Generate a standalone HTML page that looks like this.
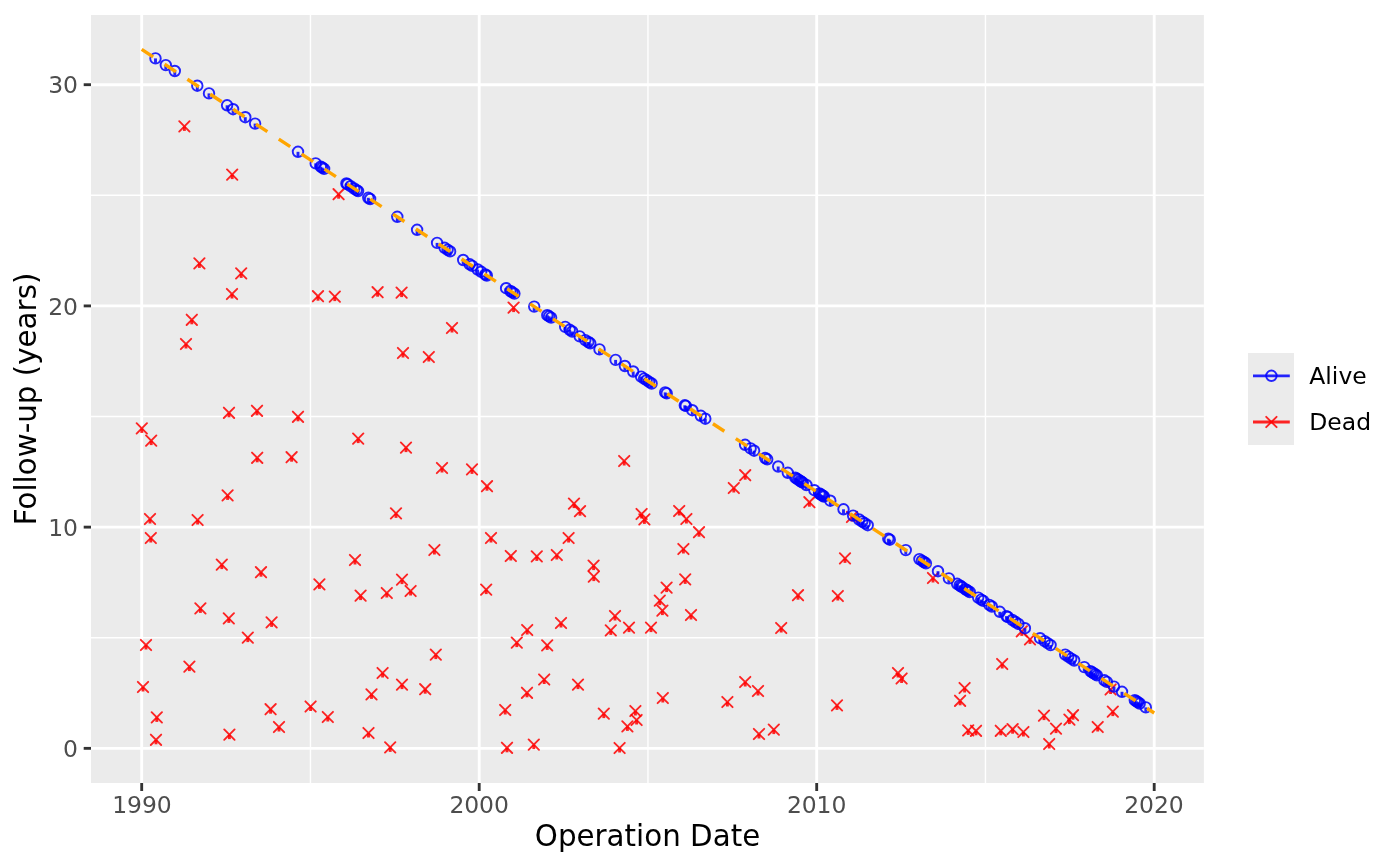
<!DOCTYPE html>
<html lang="en"><head><meta charset="utf-8"><title>Follow-up by Operation Date</title>
<style>
html,body{margin:0;padding:0;background:#fff;}
body{width:1400px;height:866px;overflow:hidden;font-family:"DejaVu Sans","Liberation Sans",sans-serif;}
svg{display:block}
.ax{font-size:23.47px;fill:#4d4d4d;letter-spacing:-0.12px}
.ttl{font-size:29.33px;fill:#000}
.lg{font-size:23.47px;fill:#000}
.gM{stroke:#fff;stroke-width:2.85;fill:none}
.gm{stroke:#fff;stroke-width:1.42;fill:none}
.tk{stroke:#333;stroke-width:2.85;fill:none}
.a{fill:none;stroke:#0000ff;stroke-opacity:.85;stroke-width:1.9}
.at{stroke:#0000ff;stroke-opacity:.85;stroke-width:2.9;fill:none}
.d{fill:none;stroke:#ff0000;stroke-opacity:.85;stroke-width:1.9;stroke-linecap:round}
.dt{stroke:#ff0000;stroke-opacity:.85;stroke-width:2.9;fill:none}
</style></head><body>
<svg width="1400" height="866" viewBox="0 0 1400 866" font-family="DejaVu Sans, Liberation Sans, sans-serif">
<rect width="1400" height="866" fill="#fff"/>
<rect x="91.0" y="15.0" width="1112.9" height="768.0" fill="#ebebeb"/>
<defs><clipPath id="cp"><rect x="91.0" y="15.0" width="1112.9" height="768.0"/></clipPath></defs>
<path class="gm" d="M91.0 637.74H1203.9"/>
<path class="gm" d="M91.0 416.53H1203.9"/>
<path class="gm" d="M91.0 195.31H1203.9"/>
<path class="gm" d="M310.45 15.0V783.0"/>
<path class="gm" d="M647.95 15.0V783.0"/>
<path class="gm" d="M985.45 15.0V783.0"/>
<path class="gM" d="M91.0 748.35H1203.9"/>
<path class="gM" d="M91.0 527.13H1203.9"/>
<path class="gM" d="M91.0 305.92H1203.9"/>
<path class="gM" d="M91.0 84.70H1203.9"/>
<path class="gM" d="M141.70 15.0V783.0"/>
<path class="gM" d="M479.20 15.0V783.0"/>
<path class="gM" d="M816.70 15.0V783.0"/>
<path class="gM" d="M1154.20 15.0V783.0"/>
<g clip-path="url(#cp)">
<g class="d">
<path d="M179.2 121.2l10.4 10.4m0 -10.4l-10.4 10.4"/>
<path d="M227.0 169.4l10.4 10.4m0 -10.4l-10.4 10.4"/>
<path d="M333.4 189.0l10.4 10.4m0 -10.4l-10.4 10.4"/>
<path d="M194.2 258.2l10.4 10.4m0 -10.4l-10.4 10.4"/>
<path d="M236.0 268.2l10.4 10.4m0 -10.4l-10.4 10.4"/>
<path d="M226.8 288.8l10.4 10.4m0 -10.4l-10.4 10.4"/>
<path d="M312.8 291.0l10.4 10.4m0 -10.4l-10.4 10.4"/>
<path d="M329.6 291.4l10.4 10.4m0 -10.4l-10.4 10.4"/>
<path d="M186.6 314.6l10.4 10.4m0 -10.4l-10.4 10.4"/>
<path d="M180.8 338.8l10.4 10.4m0 -10.4l-10.4 10.4"/>
<path d="M372.4 287.0l10.4 10.4m0 -10.4l-10.4 10.4"/>
<path d="M396.4 287.4l10.4 10.4m0 -10.4l-10.4 10.4"/>
<path d="M446.8 322.8l10.4 10.4m0 -10.4l-10.4 10.4"/>
<path d="M508.4 302.4l10.4 10.4m0 -10.4l-10.4 10.4"/>
<path d="M397.8 347.8l10.4 10.4m0 -10.4l-10.4 10.4"/>
<path d="M423.6 351.8l10.4 10.4m0 -10.4l-10.4 10.4"/>
<path d="M223.8 407.6l10.4 10.4m0 -10.4l-10.4 10.4"/>
<path d="M251.8 405.6l10.4 10.4m0 -10.4l-10.4 10.4"/>
<path d="M292.8 411.6l10.4 10.4m0 -10.4l-10.4 10.4"/>
<path d="M136.6 423.2l10.4 10.4m0 -10.4l-10.4 10.4"/>
<path d="M146.0 435.4l10.4 10.4m0 -10.4l-10.4 10.4"/>
<path d="M353.0 433.4l10.4 10.4m0 -10.4l-10.4 10.4"/>
<path d="M252.0 452.6l10.4 10.4m0 -10.4l-10.4 10.4"/>
<path d="M286.4 452.0l10.4 10.4m0 -10.4l-10.4 10.4"/>
<path d="M222.4 490.2l10.4 10.4m0 -10.4l-10.4 10.4"/>
<path d="M144.8 513.8l10.4 10.4m0 -10.4l-10.4 10.4"/>
<path d="M192.4 514.8l10.4 10.4m0 -10.4l-10.4 10.4"/>
<path d="M400.8 442.4l10.4 10.4m0 -10.4l-10.4 10.4"/>
<path d="M436.8 462.8l10.4 10.4m0 -10.4l-10.4 10.4"/>
<path d="M466.8 464.2l10.4 10.4m0 -10.4l-10.4 10.4"/>
<path d="M481.8 481.0l10.4 10.4m0 -10.4l-10.4 10.4"/>
<path d="M619.0 455.8l10.4 10.4m0 -10.4l-10.4 10.4"/>
<path d="M390.8 508.2l10.4 10.4m0 -10.4l-10.4 10.4"/>
<path d="M568.8 498.4l10.4 10.4m0 -10.4l-10.4 10.4"/>
<path d="M574.8 506.0l10.4 10.4m0 -10.4l-10.4 10.4"/>
<path d="M636.4 508.8l10.4 10.4m0 -10.4l-10.4 10.4"/>
<path d="M639.2 514.2l10.4 10.4m0 -10.4l-10.4 10.4"/>
<path d="M740.0 470.0l10.4 10.4m0 -10.4l-10.4 10.4"/>
<path d="M728.6 482.8l10.4 10.4m0 -10.4l-10.4 10.4"/>
<path d="M804.2 497.0l10.4 10.4m0 -10.4l-10.4 10.4"/>
<path d="M846.8 511.8l10.4 10.4m0 -10.4l-10.4 10.4"/>
<path d="M674.0 505.8l10.4 10.4m0 -10.4l-10.4 10.4"/>
<path d="M681.2 513.8l10.4 10.4m0 -10.4l-10.4 10.4"/>
<path d="M693.8 527.0l10.4 10.4m0 -10.4l-10.4 10.4"/>
<path d="M145.6 532.8l10.4 10.4m0 -10.4l-10.4 10.4"/>
<path d="M216.6 559.4l10.4 10.4m0 -10.4l-10.4 10.4"/>
<path d="M255.8 567.0l10.4 10.4m0 -10.4l-10.4 10.4"/>
<path d="M349.8 554.8l10.4 10.4m0 -10.4l-10.4 10.4"/>
<path d="M314.2 579.2l10.4 10.4m0 -10.4l-10.4 10.4"/>
<path d="M355.4 590.4l10.4 10.4m0 -10.4l-10.4 10.4"/>
<path d="M195.2 603.2l10.4 10.4m0 -10.4l-10.4 10.4"/>
<path d="M223.6 613.2l10.4 10.4m0 -10.4l-10.4 10.4"/>
<path d="M266.4 617.2l10.4 10.4m0 -10.4l-10.4 10.4"/>
<path d="M242.6 632.4l10.4 10.4m0 -10.4l-10.4 10.4"/>
<path d="M140.8 639.8l10.4 10.4m0 -10.4l-10.4 10.4"/>
<path d="M184.2 661.4l10.4 10.4m0 -10.4l-10.4 10.4"/>
<path d="M137.8 681.8l10.4 10.4m0 -10.4l-10.4 10.4"/>
<path d="M485.8 532.8l10.4 10.4m0 -10.4l-10.4 10.4"/>
<path d="M563.4 532.8l10.4 10.4m0 -10.4l-10.4 10.4"/>
<path d="M429.2 544.8l10.4 10.4m0 -10.4l-10.4 10.4"/>
<path d="M505.6 550.8l10.4 10.4m0 -10.4l-10.4 10.4"/>
<path d="M531.6 551.2l10.4 10.4m0 -10.4l-10.4 10.4"/>
<path d="M551.6 549.8l10.4 10.4m0 -10.4l-10.4 10.4"/>
<path d="M588.4 560.4l10.4 10.4m0 -10.4l-10.4 10.4"/>
<path d="M588.6 571.4l10.4 10.4m0 -10.4l-10.4 10.4"/>
<path d="M396.8 574.4l10.4 10.4m0 -10.4l-10.4 10.4"/>
<path d="M381.6 587.8l10.4 10.4m0 -10.4l-10.4 10.4"/>
<path d="M405.4 585.8l10.4 10.4m0 -10.4l-10.4 10.4"/>
<path d="M481.0 584.4l10.4 10.4m0 -10.4l-10.4 10.4"/>
<path d="M609.8 610.8l10.4 10.4m0 -10.4l-10.4 10.4"/>
<path d="M555.8 617.8l10.4 10.4m0 -10.4l-10.4 10.4"/>
<path d="M522.0 624.8l10.4 10.4m0 -10.4l-10.4 10.4"/>
<path d="M605.6 625.2l10.4 10.4m0 -10.4l-10.4 10.4"/>
<path d="M623.8 622.4l10.4 10.4m0 -10.4l-10.4 10.4"/>
<path d="M645.8 622.4l10.4 10.4m0 -10.4l-10.4 10.4"/>
<path d="M511.6 637.4l10.4 10.4m0 -10.4l-10.4 10.4"/>
<path d="M542.0 640.2l10.4 10.4m0 -10.4l-10.4 10.4"/>
<path d="M430.6 649.4l10.4 10.4m0 -10.4l-10.4 10.4"/>
<path d="M377.4 667.8l10.4 10.4m0 -10.4l-10.4 10.4"/>
<path d="M396.8 679.4l10.4 10.4m0 -10.4l-10.4 10.4"/>
<path d="M420.0 684.0l10.4 10.4m0 -10.4l-10.4 10.4"/>
<path d="M366.3 689.2l10.4 10.4m0 -10.4l-10.4 10.4"/>
<path d="M539.0 674.3l10.4 10.4m0 -10.4l-10.4 10.4"/>
<path d="M572.8 679.4l10.4 10.4m0 -10.4l-10.4 10.4"/>
<path d="M521.8 687.6l10.4 10.4m0 -10.4l-10.4 10.4"/>
<path d="M678.2 543.8l10.4 10.4m0 -10.4l-10.4 10.4"/>
<path d="M680.0 574.2l10.4 10.4m0 -10.4l-10.4 10.4"/>
<path d="M661.4 582.4l10.4 10.4m0 -10.4l-10.4 10.4"/>
<path d="M654.6 595.4l10.4 10.4m0 -10.4l-10.4 10.4"/>
<path d="M657.2 605.4l10.4 10.4m0 -10.4l-10.4 10.4"/>
<path d="M685.8 609.8l10.4 10.4m0 -10.4l-10.4 10.4"/>
<path d="M792.8 590.0l10.4 10.4m0 -10.4l-10.4 10.4"/>
<path d="M776.0 622.8l10.4 10.4m0 -10.4l-10.4 10.4"/>
<path d="M839.8 553.2l10.4 10.4m0 -10.4l-10.4 10.4"/>
<path d="M832.6 590.8l10.4 10.4m0 -10.4l-10.4 10.4"/>
<path d="M927.8 572.8l10.4 10.4m0 -10.4l-10.4 10.4"/>
<path d="M657.6 692.8l10.4 10.4m0 -10.4l-10.4 10.4"/>
<path d="M740.0 676.8l10.4 10.4m0 -10.4l-10.4 10.4"/>
<path d="M752.8 685.8l10.4 10.4m0 -10.4l-10.4 10.4"/>
<path d="M722.2 696.8l10.4 10.4m0 -10.4l-10.4 10.4"/>
<path d="M892.8 667.8l10.4 10.4m0 -10.4l-10.4 10.4"/>
<path d="M896.4 673.3l10.4 10.4m0 -10.4l-10.4 10.4"/>
<path d="M831.8 700.2l10.4 10.4m0 -10.4l-10.4 10.4"/>
<path d="M1016.6 626.2l10.4 10.4m0 -10.4l-10.4 10.4"/>
<path d="M1024.8 634.2l10.4 10.4m0 -10.4l-10.4 10.4"/>
<path d="M997.0 658.8l10.4 10.4m0 -10.4l-10.4 10.4"/>
<path d="M959.4 682.8l10.4 10.4m0 -10.4l-10.4 10.4"/>
<path d="M954.9 695.6l10.4 10.4m0 -10.4l-10.4 10.4"/>
<path d="M1105.4 684.3l10.4 10.4m0 -10.4l-10.4 10.4"/>
<path d="M151.6 712.2l10.4 10.4m0 -10.4l-10.4 10.4"/>
<path d="M150.8 734.6l10.4 10.4m0 -10.4l-10.4 10.4"/>
<path d="M224.2 729.4l10.4 10.4m0 -10.4l-10.4 10.4"/>
<path d="M265.4 704.0l10.4 10.4m0 -10.4l-10.4 10.4"/>
<path d="M273.8 721.8l10.4 10.4m0 -10.4l-10.4 10.4"/>
<path d="M305.4 701.3l10.4 10.4m0 -10.4l-10.4 10.4"/>
<path d="M322.6 711.8l10.4 10.4m0 -10.4l-10.4 10.4"/>
<path d="M363.3 727.8l10.4 10.4m0 -10.4l-10.4 10.4"/>
<path d="M385.0 742.2l10.4 10.4m0 -10.4l-10.4 10.4"/>
<path d="M500.0 704.8l10.4 10.4m0 -10.4l-10.4 10.4"/>
<path d="M501.8 742.6l10.4 10.4m0 -10.4l-10.4 10.4"/>
<path d="M528.6 739.4l10.4 10.4m0 -10.4l-10.4 10.4"/>
<path d="M598.6 708.4l10.4 10.4m0 -10.4l-10.4 10.4"/>
<path d="M630.2 705.8l10.4 10.4m0 -10.4l-10.4 10.4"/>
<path d="M631.4 714.8l10.4 10.4m0 -10.4l-10.4 10.4"/>
<path d="M622.2 721.2l10.4 10.4m0 -10.4l-10.4 10.4"/>
<path d="M614.4 742.8l10.4 10.4m0 -10.4l-10.4 10.4"/>
<path d="M753.8 728.8l10.4 10.4m0 -10.4l-10.4 10.4"/>
<path d="M768.6 724.4l10.4 10.4m0 -10.4l-10.4 10.4"/>
<path d="M963.0 725.2l10.4 10.4m0 -10.4l-10.4 10.4"/>
<path d="M970.8 725.6l10.4 10.4m0 -10.4l-10.4 10.4"/>
<path d="M995.6 725.6l10.4 10.4m0 -10.4l-10.4 10.4"/>
<path d="M1007.4 724.0l10.4 10.4m0 -10.4l-10.4 10.4"/>
<path d="M1018.2 726.8l10.4 10.4m0 -10.4l-10.4 10.4"/>
<path d="M1038.8 710.4l10.4 10.4m0 -10.4l-10.4 10.4"/>
<path d="M1050.8 723.4l10.4 10.4m0 -10.4l-10.4 10.4"/>
<path d="M1044.0 738.8l10.4 10.4m0 -10.4l-10.4 10.4"/>
<path d="M1064.2 714.4l10.4 10.4m0 -10.4l-10.4 10.4"/>
<path d="M1067.8 710.0l10.4 10.4m0 -10.4l-10.4 10.4"/>
<path d="M1092.5 721.8l10.4 10.4m0 -10.4l-10.4 10.4"/>
<path d="M1107.6 706.4l10.4 10.4m0 -10.4l-10.4 10.4"/>
</g><g class="dt">
<path d="M184.4 126.4v4.5"/>
<path d="M232.2 174.6v4.5"/>
<path d="M338.6 194.2v4.5"/>
<path d="M199.4 263.4v4.5"/>
<path d="M241.2 273.4v4.5"/>
<path d="M232.0 294.0v4.5"/>
<path d="M318.0 296.2v4.5"/>
<path d="M334.8 296.6v4.5"/>
<path d="M191.8 319.8v4.5"/>
<path d="M186.0 344.0v4.5"/>
<path d="M377.6 292.2v4.5"/>
<path d="M401.6 292.6v4.5"/>
<path d="M452.0 328.0v4.5"/>
<path d="M513.6 307.6v4.5"/>
<path d="M403.0 353.0v4.5"/>
<path d="M428.8 357.0v4.5"/>
<path d="M229.0 412.8v4.5"/>
<path d="M257.0 410.8v4.5"/>
<path d="M298.0 416.8v4.5"/>
<path d="M141.8 428.4v4.5"/>
<path d="M151.2 440.6v4.5"/>
<path d="M358.2 438.6v4.5"/>
<path d="M257.2 457.8v4.5"/>
<path d="M291.6 457.2v4.5"/>
<path d="M227.6 495.4v4.5"/>
<path d="M150.0 519.0v4.5"/>
<path d="M197.6 520.0v4.5"/>
<path d="M406.0 447.6v4.5"/>
<path d="M442.0 468.0v4.5"/>
<path d="M472.0 469.4v4.5"/>
<path d="M487.0 486.2v4.5"/>
<path d="M624.2 461.0v4.5"/>
<path d="M396.0 513.4v4.5"/>
<path d="M574.0 503.6v4.5"/>
<path d="M580.0 511.2v4.5"/>
<path d="M641.6 514.0v4.5"/>
<path d="M644.4 519.4v4.5"/>
<path d="M745.2 475.2v4.5"/>
<path d="M733.8 488.0v4.5"/>
<path d="M809.4 502.2v4.5"/>
<path d="M852.0 517.0v4.5"/>
<path d="M679.2 511.0v4.5"/>
<path d="M686.4 519.0v4.5"/>
<path d="M699.0 532.2v4.5"/>
<path d="M150.8 538.0v4.5"/>
<path d="M221.8 564.6v4.5"/>
<path d="M261.0 572.2v4.5"/>
<path d="M355.0 560.0v4.5"/>
<path d="M319.4 584.4v4.5"/>
<path d="M360.6 595.6v4.5"/>
<path d="M200.4 608.4v4.5"/>
<path d="M228.8 618.4v4.5"/>
<path d="M271.6 622.4v4.5"/>
<path d="M247.8 637.6v4.5"/>
<path d="M146.0 645.0v4.5"/>
<path d="M189.4 666.6v4.5"/>
<path d="M143.0 687.0v4.5"/>
<path d="M491.0 538.0v4.5"/>
<path d="M568.6 538.0v4.5"/>
<path d="M434.4 550.0v4.5"/>
<path d="M510.8 556.0v4.5"/>
<path d="M536.8 556.4v4.5"/>
<path d="M556.8 555.0v4.5"/>
<path d="M593.6 565.6v4.5"/>
<path d="M593.8 576.6v4.5"/>
<path d="M402.0 579.6v4.5"/>
<path d="M386.8 593.0v4.5"/>
<path d="M410.6 591.0v4.5"/>
<path d="M486.2 589.6v4.5"/>
<path d="M615.0 616.0v4.5"/>
<path d="M561.0 623.0v4.5"/>
<path d="M527.2 630.0v4.5"/>
<path d="M610.8 630.4v4.5"/>
<path d="M629.0 627.6v4.5"/>
<path d="M651.0 627.6v4.5"/>
<path d="M516.8 642.6v4.5"/>
<path d="M547.2 645.4v4.5"/>
<path d="M435.8 654.6v4.5"/>
<path d="M382.6 673.0v4.5"/>
<path d="M402.0 684.6v4.5"/>
<path d="M425.2 689.2v4.5"/>
<path d="M371.5 694.4v4.5"/>
<path d="M544.2 679.5v4.5"/>
<path d="M578.0 684.6v4.5"/>
<path d="M527.0 692.8v4.5"/>
<path d="M683.4 549.0v4.5"/>
<path d="M685.2 579.4v4.5"/>
<path d="M666.6 587.6v4.5"/>
<path d="M659.8 600.6v4.5"/>
<path d="M662.4 610.6v4.5"/>
<path d="M691.0 615.0v4.5"/>
<path d="M798.0 595.2v4.5"/>
<path d="M781.2 628.0v4.5"/>
<path d="M845.0 558.4v4.5"/>
<path d="M837.8 596.0v4.5"/>
<path d="M933.0 578.0v4.5"/>
<path d="M662.8 698.0v4.5"/>
<path d="M745.2 682.0v4.5"/>
<path d="M758.0 691.0v4.5"/>
<path d="M727.4 702.0v4.5"/>
<path d="M898.0 673.0v4.5"/>
<path d="M901.6 678.5v4.5"/>
<path d="M837.0 705.4v4.5"/>
<path d="M1021.8 631.4v4.5"/>
<path d="M1030.0 639.4v4.5"/>
<path d="M1002.2 664.0v4.5"/>
<path d="M964.6 688.0v4.5"/>
<path d="M960.1 700.8v4.5"/>
<path d="M1110.6 689.5v4.5"/>
<path d="M156.8 717.4v4.5"/>
<path d="M156.0 739.8v4.5"/>
<path d="M229.4 734.6v4.5"/>
<path d="M270.6 709.2v4.5"/>
<path d="M279.0 727.0v4.5"/>
<path d="M310.6 706.5v4.5"/>
<path d="M327.8 717.0v4.5"/>
<path d="M368.5 733.0v4.5"/>
<path d="M390.2 747.4v4.5"/>
<path d="M505.2 710.0v4.5"/>
<path d="M507.0 747.8v4.5"/>
<path d="M533.8 744.6v4.5"/>
<path d="M603.8 713.6v4.5"/>
<path d="M635.4 711.0v4.5"/>
<path d="M636.6 720.0v4.5"/>
<path d="M627.4 726.4v4.5"/>
<path d="M619.6 748.0v4.5"/>
<path d="M759.0 734.0v4.5"/>
<path d="M773.8 729.6v4.5"/>
<path d="M968.2 730.4v4.5"/>
<path d="M976.0 730.8v4.5"/>
<path d="M1000.8 730.8v4.5"/>
<path d="M1012.6 729.2v4.5"/>
<path d="M1023.4 732.0v4.5"/>
<path d="M1044.0 715.6v4.5"/>
<path d="M1056.0 728.6v4.5"/>
<path d="M1049.2 744.0v4.5"/>
<path d="M1069.4 719.6v4.5"/>
<path d="M1073.0 715.2v4.5"/>
<path d="M1097.7 727.0v4.5"/>
<path d="M1112.8 711.6v4.5"/>
</g>
<g class="a">
<circle cx="155.5" cy="58.4" r="5.25"/>
<circle cx="165.8" cy="65.1" r="5.25"/>
<circle cx="174.8" cy="71.0" r="5.25"/>
<circle cx="197.3" cy="85.7" r="5.25"/>
<circle cx="209.0" cy="93.4" r="5.25"/>
<circle cx="227.1" cy="105.3" r="5.25"/>
<circle cx="233.1" cy="109.2" r="5.25"/>
<circle cx="245.3" cy="117.2" r="5.25"/>
<circle cx="255.1" cy="123.6" r="5.25"/>
<circle cx="298.0" cy="151.8" r="5.25"/>
<circle cx="315.7" cy="163.4" r="5.25"/>
<circle cx="320.8" cy="166.7" r="5.25"/>
<circle cx="322.3" cy="167.7" r="5.25"/>
<circle cx="324.1" cy="168.9" r="5.25"/>
<circle cx="346.4" cy="183.5" r="5.25"/>
<circle cx="347.5" cy="184.2" r="5.25"/>
<circle cx="350.6" cy="186.2" r="5.25"/>
<circle cx="354.1" cy="188.5" r="5.25"/>
<circle cx="356.6" cy="190.2" r="5.25"/>
<circle cx="358.1" cy="191.1" r="5.25"/>
<circle cx="368.3" cy="197.8" r="5.25"/>
<circle cx="370.1" cy="199.0" r="5.25"/>
<circle cx="397.3" cy="216.8" r="5.25"/>
<circle cx="417.1" cy="229.8" r="5.25"/>
<circle cx="437.1" cy="242.9" r="5.25"/>
<circle cx="444.6" cy="247.8" r="5.25"/>
<circle cx="447.6" cy="249.8" r="5.25"/>
<circle cx="450.1" cy="251.4" r="5.25"/>
<circle cx="463.2" cy="260.0" r="5.25"/>
<circle cx="469.7" cy="264.3" r="5.25"/>
<circle cx="472.2" cy="265.9" r="5.25"/>
<circle cx="477.7" cy="269.5" r="5.25"/>
<circle cx="481.2" cy="271.8" r="5.25"/>
<circle cx="485.3" cy="274.5" r="5.25"/>
<circle cx="486.8" cy="275.5" r="5.25"/>
<circle cx="506.1" cy="288.2" r="5.25"/>
<circle cx="510.4" cy="291.0" r="5.25"/>
<circle cx="512.4" cy="292.3" r="5.25"/>
<circle cx="514.4" cy="293.6" r="5.25"/>
<circle cx="534.2" cy="306.6" r="5.25"/>
<circle cx="547.3" cy="315.2" r="5.25"/>
<circle cx="549.1" cy="316.3" r="5.25"/>
<circle cx="551.1" cy="317.6" r="5.25"/>
<circle cx="565.2" cy="326.9" r="5.25"/>
<circle cx="569.7" cy="329.8" r="5.25"/>
<circle cx="572.2" cy="331.5" r="5.25"/>
<circle cx="579.7" cy="336.4" r="5.25"/>
<circle cx="585.3" cy="340.1" r="5.25"/>
<circle cx="588.3" cy="342.0" r="5.25"/>
<circle cx="590.3" cy="343.3" r="5.25"/>
<circle cx="599.5" cy="349.4" r="5.25"/>
<circle cx="615.6" cy="359.9" r="5.25"/>
<circle cx="624.9" cy="366.0" r="5.25"/>
<circle cx="633.2" cy="371.5" r="5.25"/>
<circle cx="641.1" cy="376.6" r="5.25"/>
<circle cx="644.1" cy="378.6" r="5.25"/>
<circle cx="646.6" cy="380.2" r="5.25"/>
<circle cx="649.1" cy="381.9" r="5.25"/>
<circle cx="651.6" cy="383.5" r="5.25"/>
<circle cx="665.2" cy="392.4" r="5.25"/>
<circle cx="666.7" cy="393.4" r="5.25"/>
<circle cx="684.8" cy="405.3" r="5.25"/>
<circle cx="685.8" cy="405.9" r="5.25"/>
<circle cx="692.3" cy="410.2" r="5.25"/>
<circle cx="700.8" cy="415.8" r="5.25"/>
<circle cx="705.3" cy="418.7" r="5.25"/>
<circle cx="745.1" cy="444.8" r="5.25"/>
<circle cx="750.6" cy="448.4" r="5.25"/>
<circle cx="754.1" cy="450.7" r="5.25"/>
<circle cx="765.2" cy="458.0" r="5.25"/>
<circle cx="767.2" cy="459.3" r="5.25"/>
<circle cx="778.2" cy="466.5" r="5.25"/>
<circle cx="787.8" cy="472.8" r="5.25"/>
<circle cx="795.3" cy="477.7" r="5.25"/>
<circle cx="798.3" cy="479.7" r="5.25"/>
<circle cx="800.3" cy="481.0" r="5.25"/>
<circle cx="802.8" cy="482.6" r="5.25"/>
<circle cx="806.4" cy="485.0" r="5.25"/>
<circle cx="814.4" cy="490.2" r="5.25"/>
<circle cx="819.4" cy="493.5" r="5.25"/>
<circle cx="821.9" cy="495.1" r="5.25"/>
<circle cx="823.9" cy="496.5" r="5.25"/>
<circle cx="830.3" cy="500.7" r="5.25"/>
<circle cx="843.5" cy="509.3" r="5.25"/>
<circle cx="853.1" cy="515.6" r="5.25"/>
<circle cx="859.1" cy="519.5" r="5.25"/>
<circle cx="862.2" cy="521.6" r="5.25"/>
<circle cx="864.7" cy="523.2" r="5.25"/>
<circle cx="867.7" cy="525.2" r="5.25"/>
<circle cx="888.3" cy="538.7" r="5.25"/>
<circle cx="889.8" cy="539.7" r="5.25"/>
<circle cx="905.8" cy="550.1" r="5.25"/>
<circle cx="919.4" cy="559.1" r="5.25"/>
<circle cx="921.9" cy="560.7" r="5.25"/>
<circle cx="923.9" cy="562.0" r="5.25"/>
<circle cx="925.9" cy="563.3" r="5.25"/>
<circle cx="938.0" cy="571.2" r="5.25"/>
<circle cx="948.9" cy="578.4" r="5.25"/>
<circle cx="957.1" cy="583.8" r="5.25"/>
<circle cx="959.6" cy="585.4" r="5.25"/>
<circle cx="962.2" cy="587.1" r="5.25"/>
<circle cx="965.2" cy="589.1" r="5.25"/>
<circle cx="967.7" cy="590.7" r="5.25"/>
<circle cx="969.7" cy="592.0" r="5.25"/>
<circle cx="978.2" cy="597.6" r="5.25"/>
<circle cx="981.2" cy="599.6" r="5.25"/>
<circle cx="983.3" cy="600.9" r="5.25"/>
<circle cx="989.3" cy="604.9" r="5.25"/>
<circle cx="991.8" cy="606.5" r="5.25"/>
<circle cx="999.8" cy="611.8" r="5.25"/>
<circle cx="1006.4" cy="616.1" r="5.25"/>
<circle cx="1012.4" cy="620.0" r="5.25"/>
<circle cx="1015.4" cy="622.0" r="5.25"/>
<circle cx="1018.4" cy="623.9" r="5.25"/>
<circle cx="1024.9" cy="628.2" r="5.25"/>
<circle cx="1040.1" cy="638.2" r="5.25"/>
<circle cx="1044.6" cy="641.1" r="5.25"/>
<circle cx="1047.6" cy="643.1" r="5.25"/>
<circle cx="1050.6" cy="645.1" r="5.25"/>
<circle cx="1065.2" cy="654.6" r="5.25"/>
<circle cx="1068.2" cy="656.6" r="5.25"/>
<circle cx="1071.2" cy="658.6" r="5.25"/>
<circle cx="1074.2" cy="660.5" r="5.25"/>
<circle cx="1084.3" cy="667.1" r="5.25"/>
<circle cx="1090.4" cy="671.1" r="5.25"/>
<circle cx="1093.4" cy="673.1" r="5.25"/>
<circle cx="1096.9" cy="675.4" r="5.25"/>
<circle cx="1104.4" cy="680.3" r="5.25"/>
<circle cx="1106.8" cy="681.9" r="5.25"/>
<circle cx="1114.0" cy="686.6" r="5.25"/>
<circle cx="1122.0" cy="691.8" r="5.25"/>
<circle cx="1134.8" cy="700.2" r="5.25"/>
<circle cx="1138.0" cy="702.3" r="5.25"/>
<circle cx="1139.7" cy="703.5" r="5.25"/>
<circle cx="1145.8" cy="707.4" r="5.25"/>
<circle cx="796.8" cy="478.7" r="5.25"/>
<circle cx="801.6" cy="481.8" r="5.25"/>
<circle cx="820.6" cy="494.3" r="5.25"/>
<circle cx="822.9" cy="495.8" r="5.25"/>
<circle cx="1091.9" cy="672.1" r="5.25"/>
<circle cx="1095.1" cy="674.2" r="5.25"/>
<circle cx="1007.8" cy="617.0" r="5.25"/>
<circle cx="960.9" cy="586.3" r="5.25"/>
<circle cx="966.4" cy="589.9" r="5.25"/>
<circle cx="1136.4" cy="701.3" r="5.25"/>
</g><g class="at">
<path d="M155.5 58.4v4.5"/>
<path d="M165.8 65.1v4.5"/>
<path d="M174.8 71.0v4.5"/>
<path d="M197.3 85.7v4.5"/>
<path d="M209.0 93.4v4.5"/>
<path d="M227.1 105.3v4.5"/>
<path d="M233.1 109.2v4.5"/>
<path d="M245.3 117.2v4.5"/>
<path d="M255.1 123.6v4.5"/>
<path d="M298.0 151.8v4.5"/>
<path d="M315.7 163.4v4.5"/>
<path d="M320.8 166.7v4.5"/>
<path d="M322.3 167.7v4.5"/>
<path d="M324.1 168.9v4.5"/>
<path d="M346.4 183.5v4.5"/>
<path d="M347.5 184.2v4.5"/>
<path d="M350.6 186.2v4.5"/>
<path d="M354.1 188.5v4.5"/>
<path d="M356.6 190.2v4.5"/>
<path d="M358.1 191.1v4.5"/>
<path d="M368.3 197.8v4.5"/>
<path d="M370.1 199.0v4.5"/>
<path d="M397.3 216.8v4.5"/>
<path d="M417.1 229.8v4.5"/>
<path d="M437.1 242.9v4.5"/>
<path d="M444.6 247.8v4.5"/>
<path d="M447.6 249.8v4.5"/>
<path d="M450.1 251.4v4.5"/>
<path d="M463.2 260.0v4.5"/>
<path d="M469.7 264.3v4.5"/>
<path d="M472.2 265.9v4.5"/>
<path d="M477.7 269.5v4.5"/>
<path d="M481.2 271.8v4.5"/>
<path d="M485.3 274.5v4.5"/>
<path d="M486.8 275.5v4.5"/>
<path d="M506.1 288.2v4.5"/>
<path d="M510.4 291.0v4.5"/>
<path d="M512.4 292.3v4.5"/>
<path d="M514.4 293.6v4.5"/>
<path d="M534.2 306.6v4.5"/>
<path d="M547.3 315.2v4.5"/>
<path d="M549.1 316.3v4.5"/>
<path d="M551.1 317.6v4.5"/>
<path d="M565.2 326.9v4.5"/>
<path d="M569.7 329.8v4.5"/>
<path d="M572.2 331.5v4.5"/>
<path d="M579.7 336.4v4.5"/>
<path d="M585.3 340.1v4.5"/>
<path d="M588.3 342.0v4.5"/>
<path d="M590.3 343.3v4.5"/>
<path d="M599.5 349.4v4.5"/>
<path d="M615.6 359.9v4.5"/>
<path d="M624.9 366.0v4.5"/>
<path d="M633.2 371.5v4.5"/>
<path d="M641.1 376.6v4.5"/>
<path d="M644.1 378.6v4.5"/>
<path d="M646.6 380.2v4.5"/>
<path d="M649.1 381.9v4.5"/>
<path d="M651.6 383.5v4.5"/>
<path d="M665.2 392.4v4.5"/>
<path d="M666.7 393.4v4.5"/>
<path d="M684.8 405.3v4.5"/>
<path d="M685.8 405.9v4.5"/>
<path d="M692.3 410.2v4.5"/>
<path d="M700.8 415.8v4.5"/>
<path d="M705.3 418.7v4.5"/>
<path d="M745.1 444.8v4.5"/>
<path d="M750.6 448.4v4.5"/>
<path d="M754.1 450.7v4.5"/>
<path d="M765.2 458.0v4.5"/>
<path d="M767.2 459.3v4.5"/>
<path d="M778.2 466.5v4.5"/>
<path d="M787.8 472.8v4.5"/>
<path d="M795.3 477.7v4.5"/>
<path d="M798.3 479.7v4.5"/>
<path d="M800.3 481.0v4.5"/>
<path d="M802.8 482.6v4.5"/>
<path d="M806.4 485.0v4.5"/>
<path d="M814.4 490.2v4.5"/>
<path d="M819.4 493.5v4.5"/>
<path d="M821.9 495.1v4.5"/>
<path d="M823.9 496.5v4.5"/>
<path d="M830.3 500.7v4.5"/>
<path d="M843.5 509.3v4.5"/>
<path d="M853.1 515.6v4.5"/>
<path d="M859.1 519.5v4.5"/>
<path d="M862.2 521.6v4.5"/>
<path d="M864.7 523.2v4.5"/>
<path d="M867.7 525.2v4.5"/>
<path d="M888.3 538.7v4.5"/>
<path d="M889.8 539.7v4.5"/>
<path d="M905.8 550.1v4.5"/>
<path d="M919.4 559.1v4.5"/>
<path d="M921.9 560.7v4.5"/>
<path d="M923.9 562.0v4.5"/>
<path d="M925.9 563.3v4.5"/>
<path d="M938.0 571.2v4.5"/>
<path d="M948.9 578.4v4.5"/>
<path d="M957.1 583.8v4.5"/>
<path d="M959.6 585.4v4.5"/>
<path d="M962.2 587.1v4.5"/>
<path d="M965.2 589.1v4.5"/>
<path d="M967.7 590.7v4.5"/>
<path d="M969.7 592.0v4.5"/>
<path d="M978.2 597.6v4.5"/>
<path d="M981.2 599.6v4.5"/>
<path d="M983.3 600.9v4.5"/>
<path d="M989.3 604.9v4.5"/>
<path d="M991.8 606.5v4.5"/>
<path d="M999.8 611.8v4.5"/>
<path d="M1006.4 616.1v4.5"/>
<path d="M1012.4 620.0v4.5"/>
<path d="M1015.4 622.0v4.5"/>
<path d="M1018.4 623.9v4.5"/>
<path d="M1024.9 628.2v4.5"/>
<path d="M1040.1 638.2v4.5"/>
<path d="M1044.6 641.1v4.5"/>
<path d="M1047.6 643.1v4.5"/>
<path d="M1050.6 645.1v4.5"/>
<path d="M1065.2 654.6v4.5"/>
<path d="M1068.2 656.6v4.5"/>
<path d="M1071.2 658.6v4.5"/>
<path d="M1074.2 660.5v4.5"/>
<path d="M1084.3 667.1v4.5"/>
<path d="M1090.4 671.1v4.5"/>
<path d="M1093.4 673.1v4.5"/>
<path d="M1096.9 675.4v4.5"/>
<path d="M1104.4 680.3v4.5"/>
<path d="M1106.8 681.9v4.5"/>
<path d="M1114.0 686.6v4.5"/>
<path d="M1122.0 691.8v4.5"/>
<path d="M1134.8 700.2v4.5"/>
<path d="M1138.0 702.3v4.5"/>
<path d="M1139.7 703.5v4.5"/>
<path d="M1145.8 707.4v4.5"/>
<path d="M796.8 478.7v4.5"/>
<path d="M801.6 481.8v4.5"/>
<path d="M820.6 494.3v4.5"/>
<path d="M822.9 495.8v4.5"/>
<path d="M1091.9 672.1v4.5"/>
<path d="M1095.1 674.2v4.5"/>
<path d="M1007.8 617.0v4.5"/>
<path d="M960.9 586.3v4.5"/>
<path d="M966.4 589.9v4.5"/>
<path d="M1136.4 701.3v4.5"/>
</g>
<path d="M141.70 49.31L1154.20 712.96" stroke="#ffa500" stroke-width="3.4" stroke-dasharray="13.66 13.66" fill="none"/>
</g>
<path class="tk" d="M83.7 748.35H91.0"/>
<text class="ax" x="77.9" y="756.80" text-anchor="end">0</text>
<path class="tk" d="M83.7 527.13H91.0"/>
<text class="ax" x="77.9" y="535.73" text-anchor="end">10</text>
<path class="tk" d="M83.7 305.92H91.0"/>
<text class="ax" x="77.9" y="314.67" text-anchor="end">20</text>
<path class="tk" d="M83.7 84.70H91.0"/>
<text class="ax" x="77.9" y="92.55" text-anchor="end">30</text>
<path class="tk" d="M141.70 783.0v8"/>
<text class="ax" x="141.90" y="813.3" text-anchor="middle">1990</text>
<path class="tk" d="M479.20 783.0v8"/>
<text class="ax" x="479.10" y="813.3" text-anchor="middle">2000</text>
<path class="tk" d="M816.70 783.0v8"/>
<text class="ax" x="816.60" y="813.3" text-anchor="middle">2010</text>
<path class="tk" d="M1154.20 783.0v8"/>
<text class="ax" x="1153.90" y="813.3" text-anchor="middle">2020</text>
<text class="ttl" x="647.5" y="845.6" text-anchor="middle">Operation Date</text>
<text class="ttl" transform="translate(36 399.0) rotate(-90)" text-anchor="middle">Follow-up (years)</text>
<rect x="1248" y="353" width="46" height="92" fill="#ebebeb"/>
<path class="at" d="M1253 375.9H1289.8"/><circle class="a" cx="1271.4" cy="375.8" r="5.25"/>
<path class="dt" d="M1253 422H1289.8"/><path class="d" d="M1266.2 416.8l10.4 10.4m0 -10.4l-10.4 10.4"/>
<text class="lg" x="1309.3" y="383.7">Alive</text>
<text class="lg" x="1309.3" y="429.6">Dead</text>
</svg></body></html>
